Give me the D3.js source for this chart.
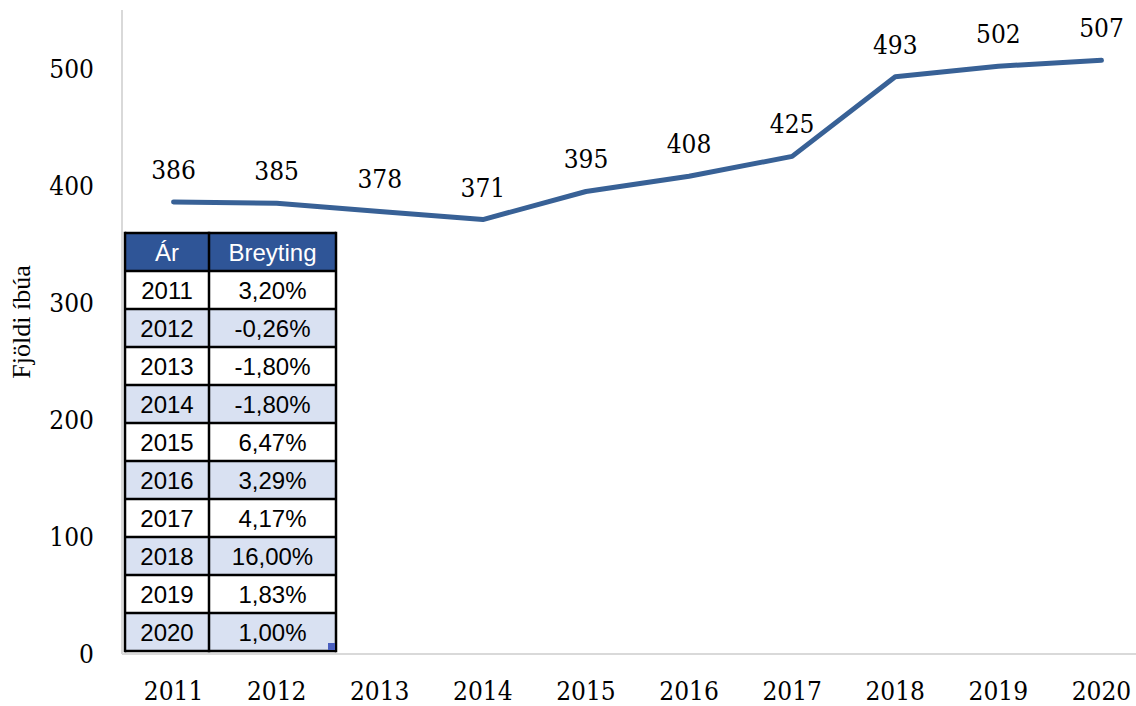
<!DOCTYPE html>
<html><head><meta charset="utf-8">
<script src="https://cdn.jsdelivr.net/npm/d3@7"></script>
<style>body{margin:0;background:#fff}
.num{font-family:'DejaVu Serif Condensed','DejaVu Serif';font-stretch:condensed;}
</style>
</head><body>
<svg id="chart" width="1136" height="706"></svg>
<script>
const years = ["2011","2012","2013","2014","2015","2016","2017","2018","2019","2020"];
const residents = [386,385,378,371,395,408,425,493,502,507];
const yTicks = [0,100,200,300,400,500];
const tableHeader = ["Ár","Breyting"];
const tableChanges = ["3,20%","-0,26%","-1,80%","-1,80%","6,47%","3,29%","4,17%","16,00%","1,83%","1,00%"];
const yTitle = "Fjöldi íbúa";

(function(){
const svg = d3.select("#chart");
const pLeft = 122, pTop = 10, pBottom = 654, bandW = 103.1;
const x = d3.scaleBand().domain(years).range([pLeft, pLeft + bandW*years.length]);
const y = d3.scaleLinear().domain([0,550]).range([pBottom, pTop]);
const fs = 26;

// axes
svg.append("line").attr("x1",pLeft).attr("x2",pLeft).attr("y1",pTop).attr("y2",pBottom)
  .attr("stroke","#d9d9d9").attr("stroke-width",2);
svg.append("line").attr("x1",pLeft).attr("x2",1136).attr("y1",pBottom).attr("y2",pBottom)
  .attr("stroke","#d9d9d9").attr("stroke-width",2);

svg.append("g").selectAll("text").data(yTicks).join("text").attr("class","num")
  .attr("x",94).attr("y",d=>y(d)).attr("dy","0.36em").attr("text-anchor","end")
  .attr("font-size",fs).attr("fill","#000").text(d=>d);

svg.append("g").selectAll("text").data(years).join("text").attr("class","num")
  .attr("x",d=>x(d)+x.bandwidth()/2).attr("y",700).attr("text-anchor","middle")
  .attr("font-size",fs).attr("fill","#000").text(d=>d);

svg.append("text").attr("transform",`translate(30,322) rotate(-90)`)
  .attr("text-anchor","middle").attr("font-family","Liberation Serif").attr("font-size",26)
  .attr("fill","#000").text(yTitle);

// line
const pts = years.map((yr,i)=>({yr, v:residents[i]}));
svg.append("path").datum(pts)
  .attr("d", d3.line().x(d=>x(d.yr)+x.bandwidth()/2).y(d=>y(d.v)))
  .attr("fill","none").attr("stroke","#386196").attr("stroke-width",5)
  .attr("stroke-linecap","round").attr("stroke-linejoin","round");

svg.append("g").selectAll("text").data(pts).join("text").attr("class","num")
  .attr("x",d=>x(d.yr)+x.bandwidth()/2).attr("y",d=>y(d.v)-23).attr("text-anchor","middle")
  .attr("font-size",fs).attr("fill","#000").text(d=>d.v);

// table
const tx = [125, 209, 336], ty0 = 233, rh = 38;
const tg = svg.append("g");
const rows = [tableHeader].concat(years.map((yr,i)=>[yr, tableChanges[i]]));
rows.forEach((r,ri)=>{
  const yy = ty0 + ri*rh;
  const fill = ri===0 ? "#2F5597" : (ri%2===0 ? "#D9E1F2" : "#ffffff");
  tg.append("rect").attr("x",tx[0]).attr("y",yy).attr("width",tx[2]-tx[0]).attr("height",rh).attr("fill",fill);
  r.forEach((c,ci)=>{
    tg.append("text").attr("x",(tx[ci]+tx[ci+1])/2).attr("y",yy+rh/2).attr("dy","0.36em")
      .attr("text-anchor","middle").attr("font-family","Liberation Sans").attr("font-size",24)
      .attr("fill", ri===0 ? "#ffffff" : "#000").text(c);
  });
});
for (let ri=0; ri<=rows.length; ri++){
  tg.append("line").attr("x1",tx[0]).attr("x2",tx[2]).attr("y1",ty0+ri*rh).attr("y2",ty0+ri*rh)
    .attr("stroke","#000").attr("stroke-width",2.5);
}
tx.forEach(xx=>{
  tg.append("line").attr("x1",xx).attr("x2",xx).attr("y1",ty0-1.25).attr("y2",ty0+rows.length*rh+1.25)
    .attr("stroke","#000").attr("stroke-width",2.5);
});
tg.append("rect").attr("x",tx[2]-8).attr("y",ty0+rows.length*rh-8).attr("width",7).attr("height",7).attr("fill","#4a5fbf");
})();
</script>
</body></html>
